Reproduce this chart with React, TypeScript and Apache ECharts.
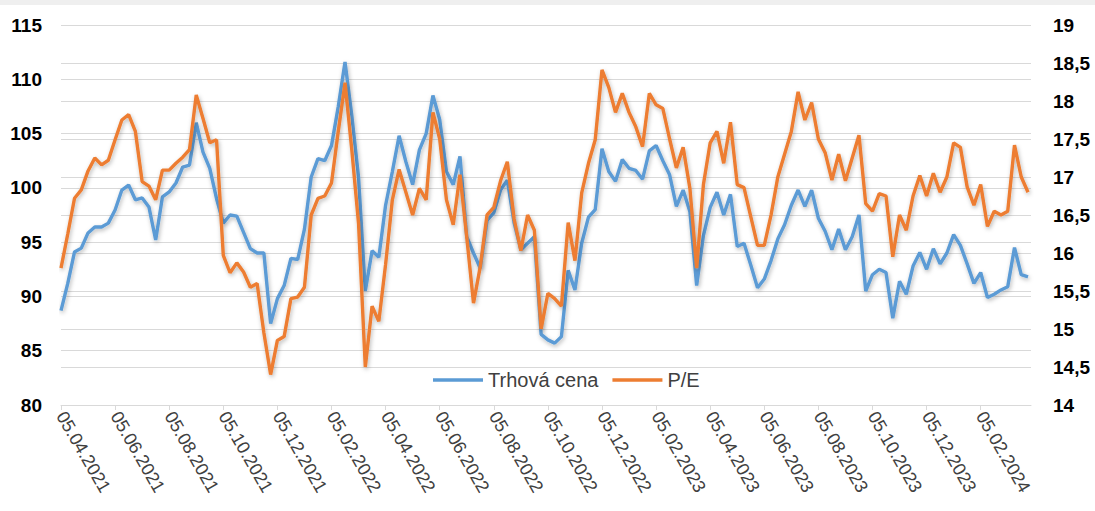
import React, { useEffect, useRef } from "react";
import * as echarts from "echarts";

// Tick labels of the time axis (every two months)
const xLabels = [
  "05.04.2021", "05.06.2021", "05.08.2021", "05.10.2021", "05.12.2021",
  "05.02.2022", "05.04.2022", "05.06.2022", "05.08.2022", "05.10.2022",
  "05.12.2022", "05.02.2023", "05.04.2023", "05.06.2023", "05.08.2023",
  "05.10.2023", "05.12.2023", "05.02.2024",
];

// One sample every quarter of a month, starting 05.04.2021
const trhovaCena = [
  88.7, 91.2, 94.1, 94.45, 95.85, 96.4, 96.4, 96.75, 97.96, 99.8,
  100.26, 98.9, 99.07, 98.24, 95.2, 99.16, 99.62, 100.45, 101.92, 102.1,
  106.0, 103.3, 101.8, 99.0, 96.76, 97.5, 97.4, 95.9, 94.4, 94.0,
  94.0, 87.5, 89.8, 91.0, 93.5, 93.4, 96.2, 101.0, 102.7, 102.5,
  103.9, 107.5, 111.6, 106.7, 101.0, 90.5, 94.2, 93.6, 98.4, 101.5,
  104.8, 102.4, 100.3, 103.5, 105.0, 108.5, 106.3, 101.5, 100.3, 102.9,
  95.5, 94.0, 92.6, 97.0, 97.7, 99.8, 100.7, 96.8, 94.3, 94.9,
  95.5, 86.5, 86.0, 85.7, 86.3, 92.4, 90.6, 94.9, 97.3, 98.0,
  103.6, 101.5, 100.6, 102.6, 101.8, 101.6, 100.8, 103.4, 103.9, 102.5,
  101.2, 98.3, 99.8, 97.8, 91.0, 95.6, 98.2, 99.6, 97.5, 99.4,
  94.6, 94.9, 92.9, 90.8, 91.6, 93.3, 95.3, 96.6, 98.4, 99.8,
  98.3, 99.8, 97.2, 96.0, 94.3, 96.2, 94.3, 95.5, 97.5, 90.5,
  92.0, 92.5, 92.2, 88.0, 91.4, 90.2, 92.8, 94.05, 92.5, 94.4,
  93.0, 94.0, 95.7, 94.7, 93.0, 91.2, 92.2, 89.9, 90.2, 90.6,
  90.9, 94.5, 92.0, 91.8,
];

const pe = [
  15.8, 16.25, 16.72, 16.83, 17.08, 17.25, 17.16, 17.22, 17.49, 17.75,
  17.82, 17.6, 16.94, 16.88, 16.7, 17.09, 17.09, 17.18, 17.26, 17.36,
  18.08, 17.77, 17.45, 17.49, 15.97, 15.74, 15.87, 15.75, 15.55, 15.6,
  14.95, 14.4, 14.85, 14.9, 15.4, 15.42, 15.55, 16.5, 16.72, 16.75,
  16.92, 17.6, 18.24, 17.36, 16.39, 14.5, 15.3, 15.1, 15.85, 16.7,
  17.1, 16.8, 16.5, 16.85, 16.7, 17.85, 17.5, 16.7, 16.37, 17.03,
  16.21, 15.34, 15.82, 16.5, 16.6, 16.95, 17.2, 16.45, 16.03, 16.5,
  16.3, 15.0, 15.47, 15.4, 15.3, 16.4, 15.9, 16.79, 17.18, 17.49,
  18.41, 18.18, 17.85, 18.1, 17.85, 17.66, 17.4, 18.1, 17.95, 17.9,
  17.5, 17.12, 17.39, 16.85, 15.8, 16.9, 17.45, 17.6, 17.18, 17.72,
  16.9, 16.86, 16.48, 16.1, 16.1, 16.5, 17.0, 17.3, 17.6, 18.12,
  17.75, 17.98, 17.5, 17.32, 16.96, 17.3, 16.95, 17.25, 17.55, 16.65,
  16.55, 16.78, 16.75, 15.95, 16.5, 16.3, 16.75, 17.02, 16.75, 17.05,
  16.8, 17.0, 17.45, 17.39, 16.87, 16.63, 16.9, 16.35, 16.55, 16.5,
  16.55, 17.42, 17.0, 16.8,
];

const STEP = 0.25; // months per sample
const X_MAX = 35.86;

const FONT = "Liberation Sans";

export default function App() {
  const ref = useRef<HTMLDivElement>(null);

  useEffect(() => {
    if (!ref.current) return;
    const chart = echarts.init(ref.current, null, { renderer: "svg" });
    const tickVals = xLabels.map((_, i) => i * 2);
    const shadow = {
      shadowColor: "rgba(0,0,0,0.28)",
      shadowBlur: 4,
      shadowOffsetX: 1,
      shadowOffsetY: 2,
    };
    chart.setOption({
      animation: false,
      backgroundColor: "#ffffff",
      graphic: [
        {
          type: "rect",
          shape: { x: 0, y: 0, width: 1095, height: 5 },
          style: { fill: "#efefef" },
          silent: true,
        },
      ],
      grid: { left: 61, right: 64, top: 25, bottom: 106 },
      legend: {
        left: 428,
        top: 365,
        icon: "rect",
        itemWidth: 50,
        itemHeight: 3.5,
        itemGap: 14,
        textStyle: { fontFamily: FONT, fontSize: 20, color: "#404040" },
        data: ["Trhová cena", "P/E"],
      },
      xAxis: {
        type: "value",
        min: 0,
        max: X_MAX,
        interval: 2,
        splitLine: { show: false },
        axisLine: { show: true, lineStyle: { color: "#d9d9d9", width: 1 } },
        axisTick: {
          show: true,
          length: 5,
          lineStyle: { color: "#d9d9d9" },
          customValues: tickVals,
        },
        axisLabel: {
          rotate: -60,
          margin: 8,
          fontFamily: FONT,
          fontSize: 18,
          color: "#404040",
          customValues: tickVals,
          formatter: (v: number) => {
            const r = Math.round(v);
            if (Math.abs(v - r) > 1e-6 || r % 2 !== 0) return "";
            return xLabels[r / 2] ?? "";
          },
        },
      },
      yAxis: [
        {
          type: "value",
          position: "left",
          min: 80,
          max: 115,
          interval: 5,
          axisLine: { show: false },
          axisTick: { show: false },
          splitLine: { lineStyle: { color: "#d9d9d9", width: 1 } },
          axisLabel: {
            margin: 19,
            fontFamily: FONT,
            fontSize: 19,
            fontWeight: "bold",
            color: "#000000",
          },
        },
        {
          type: "value",
          position: "right",
          min: 14,
          max: 19,
          interval: 0.5,
          axisLine: { show: false },
          axisTick: { show: false },
          splitLine: { lineStyle: { color: "#d9d9d9", width: 1 } },
          axisLabel: {
            margin: 22,
            fontFamily: FONT,
            fontSize: 19,
            fontWeight: "bold",
            color: "#000000",
            formatter: (v: number) => String(v).replace(".", ","),
          },
        },
      ],
      series: [
        {
          name: "Trhová cena",
          type: "line",
          yAxisIndex: 0,
          symbol: "none",
          showSymbol: false,
          lineStyle: { color: "#5b9bd5", width: 3.4, ...shadow },
          itemStyle: { color: "#5b9bd5" },
          data: trhovaCena.map((v, i) => [i * STEP, v]),
          z: 2,
        },
        {
          name: "P/E",
          type: "line",
          yAxisIndex: 1,
          symbol: "none",
          showSymbol: false,
          lineStyle: { color: "#ed7d31", width: 3.4, ...shadow },
          itemStyle: { color: "#ed7d31" },
          data: pe.map((v, i) => [i * STEP, v]),
          z: 3,
        },
      ],
    });
    return () => chart.dispose();
  }, []);

  return (
    <div
      ref={ref}
      style={{
        position: "absolute",
        left: 0,
        top: 0,
        width: 1095,
        height: 511,
        background: "#ffffff",
      }}
    />
  );
}
